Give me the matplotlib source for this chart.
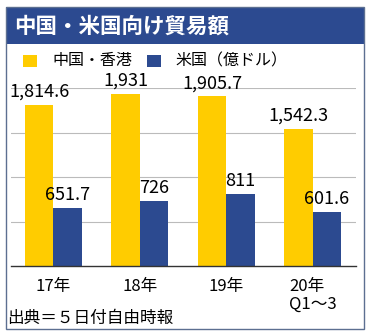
import numpy as np
import matplotlib.pyplot as plt
from matplotlib.patches import Rectangle

plt.rcParams['font.family'] = ['Noto Sans CJK JP', 'DejaVu Sans']

categories = ['17年', '18年', '19年', '20年\nQ1〜3']
china_hk = [1814.6, 1931, 1905.7, 1542.3]
usa = [651.7, 726, 811, 601.6]
series_names = ['中国・香港', '米国（億ドル）']
title = '中国・米国向け貿易額'
source = '出典＝５日付自由時報'

yellow = '#FFCC00'
blue = '#2C4A90'
frame = '#5C6F91'

W, H = 371, 336
fig = plt.figure(figsize=(W / 100, H / 100), dpi=100, facecolor='white')

def px(x, y):
    # pixel coords from top-left -> figure fraction
    return x / W, 1 - y / H

# outer frame and title band
fig.patches.append(Rectangle(px(6, 329), 358 / W, 322 / H, transform=fig.transFigure,
                             facecolor='none', edgecolor=frame, lw=1.0, zorder=5))
fig.patches.append(Rectangle(px(6, 44), 358 / W, 37 / H, transform=fig.transFigure,
                             facecolor=blue, edgecolor='none', zorder=1))
fig.text(*px(14, 26), title, color='white', fontsize=15.5, fontweight='bold', va='center', ha='left')

# legend
fig.patches.append(Rectangle(px(23, 67), 14 / W, 12 / H, transform=fig.transFigure,
                             facecolor=yellow, edgecolor='none'))
fig.text(*px(52, 61), series_names[0], fontsize=11.5, va='center', ha='left')
fig.patches.append(Rectangle(px(147, 67), 14 / W, 12 / H, transform=fig.transFigure,
                             facecolor=blue, edgecolor='none'))
fig.text(*px(175, 61), series_names[1], fontsize=11.5, va='center', ha='left')

ax = fig.add_axes([11 / W, 70 / H, 345 / W, 178 / H])
ax.set_facecolor('none')
x = np.arange(len(categories))
w = 0.33
b1 = ax.bar(x - w / 2, china_hk, w, color=yellow, zorder=2)
b2 = ax.bar(x + w / 2, usa, w, color=blue, zorder=2)

for bars, vals in ((b1, china_hk), (b2, usa)):
    for r, v in zip(bars, vals):
        ax.annotate(f'{v:,g}', (r.get_x() + r.get_width() / 2, v), xytext=(0, 3),
                    textcoords='offset points', ha='center', va='bottom',
                    fontsize=13, clip_on=False, zorder=3)

ax.set_xlim(-0.49, 3.5)
ax.set_ylim(0, 2000)
ax.set_yticks([500, 1000, 1500, 2000])
ax.yaxis.grid(True, color='#BBBBBB', lw=0.8, zorder=0)
ax.tick_params(axis='y', left=False, labelleft=False)
ax.set_xticks(x)
ax.set_xticklabels(categories, fontsize=12, linespacing=1.0, multialignment='left')
ax.tick_params(axis='x', length=0, pad=9)
for s in ('top', 'right', 'left'):
    ax.spines[s].set_visible(False)
ax.spines['bottom'].set_color('#333333')
ax.spines['bottom'].set_linewidth(1.0)

fig.text(*px(7, 318), source, fontsize=12, va='center', ha='left')

fig.savefig('out.png', dpi=100)
